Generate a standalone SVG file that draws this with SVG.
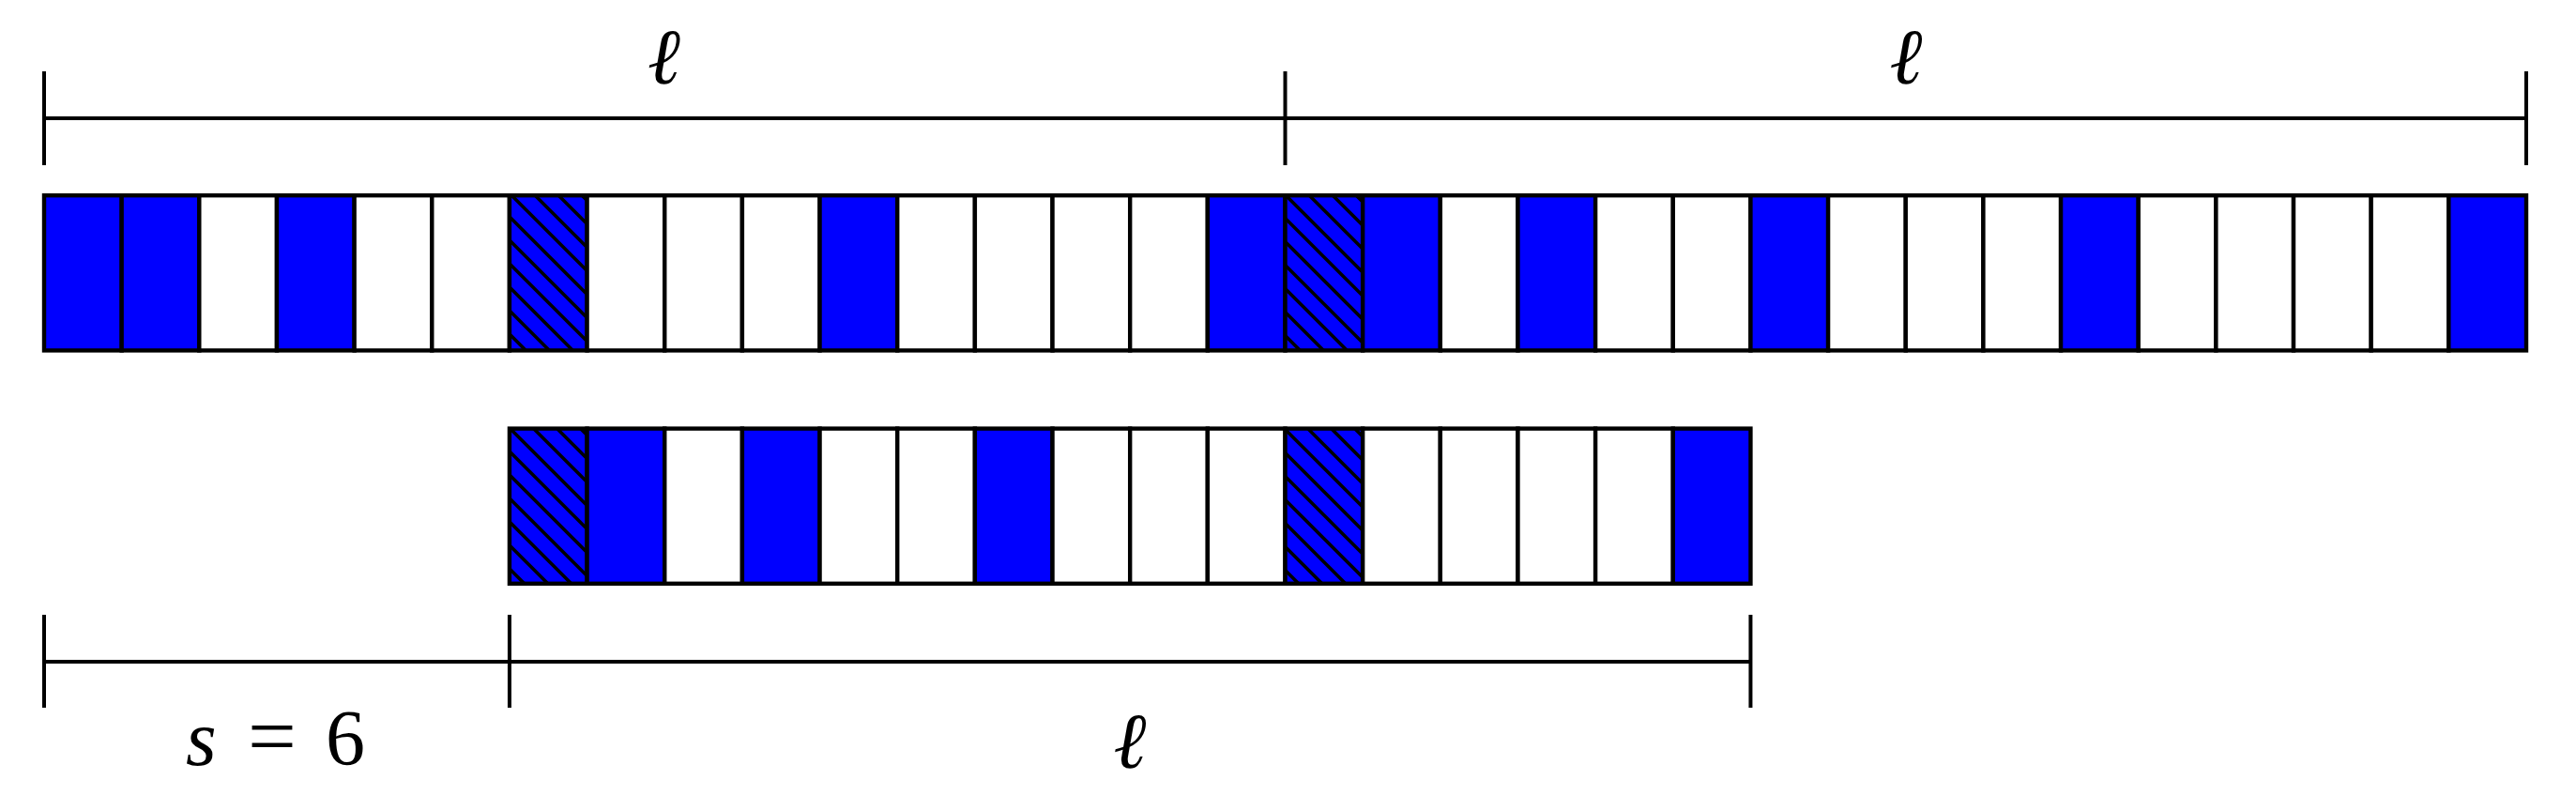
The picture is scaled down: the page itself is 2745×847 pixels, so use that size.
<svg xmlns="http://www.w3.org/2000/svg" width="2745" height="847" viewBox="0 0 2745 847">
<style>
.c{stroke:#000;stroke-width:4.4;}
.b{fill:#0000ff;}
.w{fill:#ffffff;}
.h{fill:url(#hatch);}
.dim{stroke:#000;stroke-width:4;fill:none;}
.lbl{font-family:"Liberation Serif","DejaVu Serif",serif;font-size:84px;fill:#000;}
.it{font-style:italic;}
</style>
<defs>
<pattern id="hatch" patternUnits="userSpaceOnUse" x="12" y="0" width="25" height="25">
<rect x="0" y="0" width="25" height="25" fill="#0000ff"/>
<path d="M-5,-5 L30,30 M-5,20 L5,30 M20,-5 L30,5" stroke="#000" stroke-width="3.6"/>
</pattern>
</defs>
<rect width="2745" height="847" fill="#fff"/>
<g id="top-row">
<g id="t0"><rect class="c b" x="47" y="208.2" width="82.66" height="165.2"/></g>
<g id="t1"><rect class="c b" x="129.66" y="208.2" width="82.66" height="165.2"/></g>
<g id="t2"><rect class="c w" x="212.31" y="208.2" width="82.66" height="165.2"/></g>
<g id="t3"><rect class="c b" x="294.97" y="208.2" width="82.66" height="165.2"/></g>
<g id="t4"><rect class="c w" x="377.62" y="208.2" width="82.66" height="165.2"/></g>
<g id="t5"><rect class="c w" x="460.28" y="208.2" width="82.66" height="165.2"/></g>
<g id="t6"><rect class="c h" x="542.94" y="208.2" width="82.66" height="165.2"/></g>
<g id="t7"><rect class="c w" x="625.59" y="208.2" width="82.66" height="165.2"/></g>
<g id="t8"><rect class="c w" x="708.25" y="208.2" width="82.66" height="165.2"/></g>
<g id="t9"><rect class="c w" x="790.9" y="208.2" width="82.66" height="165.2"/></g>
<g id="t10"><rect class="c b" x="873.56" y="208.2" width="82.66" height="165.2"/></g>
<g id="t11"><rect class="c w" x="956.22" y="208.2" width="82.66" height="165.2"/></g>
<g id="t12"><rect class="c w" x="1038.87" y="208.2" width="82.66" height="165.2"/></g>
<g id="t13"><rect class="c w" x="1121.53" y="208.2" width="82.66" height="165.2"/></g>
<g id="t14"><rect class="c w" x="1204.18" y="208.2" width="82.66" height="165.2"/></g>
<g id="t15"><rect class="c b" x="1286.84" y="208.2" width="82.66" height="165.2"/></g>
<g id="t16"><rect class="c h" x="1369.5" y="208.2" width="82.66" height="165.2"/></g>
<g id="t17"><rect class="c b" x="1452.15" y="208.2" width="82.66" height="165.2"/></g>
<g id="t18"><rect class="c w" x="1534.81" y="208.2" width="82.66" height="165.2"/></g>
<g id="t19"><rect class="c b" x="1617.46" y="208.2" width="82.66" height="165.2"/></g>
<g id="t20"><rect class="c w" x="1700.12" y="208.2" width="82.66" height="165.2"/></g>
<g id="t21"><rect class="c w" x="1782.78" y="208.2" width="82.66" height="165.2"/></g>
<g id="t22"><rect class="c b" x="1865.43" y="208.2" width="82.66" height="165.2"/></g>
<g id="t23"><rect class="c w" x="1948.09" y="208.2" width="82.66" height="165.2"/></g>
<g id="t24"><rect class="c w" x="2030.74" y="208.2" width="82.66" height="165.2"/></g>
<g id="t25"><rect class="c w" x="2113.4" y="208.2" width="82.66" height="165.2"/></g>
<g id="t26"><rect class="c b" x="2196.06" y="208.2" width="82.66" height="165.2"/></g>
<g id="t27"><rect class="c w" x="2278.71" y="208.2" width="82.66" height="165.2"/></g>
<g id="t28"><rect class="c w" x="2361.37" y="208.2" width="82.66" height="165.2"/></g>
<g id="t29"><rect class="c w" x="2444.02" y="208.2" width="82.66" height="165.2"/></g>
<g id="t30"><rect class="c w" x="2526.68" y="208.2" width="82.66" height="165.2"/></g>
<g id="t31"><rect class="c b" x="2609.34" y="208.2" width="82.66" height="165.2"/></g>
</g>
<g id="bottom-row">
<g id="b6"><rect class="c h" x="542.94" y="456.6" width="82.66" height="165.2"/></g>
<g id="b7"><rect class="c b" x="625.59" y="456.6" width="82.66" height="165.2"/></g>
<g id="b8"><rect class="c w" x="708.25" y="456.6" width="82.66" height="165.2"/></g>
<g id="b9"><rect class="c b" x="790.9" y="456.6" width="82.66" height="165.2"/></g>
<g id="b10"><rect class="c w" x="873.56" y="456.6" width="82.66" height="165.2"/></g>
<g id="b11"><rect class="c w" x="956.22" y="456.6" width="82.66" height="165.2"/></g>
<g id="b12"><rect class="c b" x="1038.87" y="456.6" width="82.66" height="165.2"/></g>
<g id="b13"><rect class="c w" x="1121.53" y="456.6" width="82.66" height="165.2"/></g>
<g id="b14"><rect class="c w" x="1204.18" y="456.6" width="82.66" height="165.2"/></g>
<g id="b15"><rect class="c w" x="1286.84" y="456.6" width="82.66" height="165.2"/></g>
<g id="b16"><rect class="c h" x="1369.5" y="456.6" width="82.66" height="165.2"/></g>
<g id="b17"><rect class="c w" x="1452.15" y="456.6" width="82.66" height="165.2"/></g>
<g id="b18"><rect class="c w" x="1534.81" y="456.6" width="82.66" height="165.2"/></g>
<g id="b19"><rect class="c w" x="1617.46" y="456.6" width="82.66" height="165.2"/></g>
<g id="b20"><rect class="c w" x="1700.12" y="456.6" width="82.66" height="165.2"/></g>
<g id="b21"><rect class="c b" x="1782.78" y="456.6" width="82.66" height="165.2"/></g>
</g>
<g id="dimensions">
<path class="dim" d="M47,126 H2692 M47,76 V176 M1369.5,76 V176 M2692,76 V176"/>
<path class="dim" d="M47,705 H1865.4 M47,655 V754 M542.94,655 V754 M1865.43,655 V754"/>
</g>
<g id="labels">
<text class="lbl it" x="707.5" y="89" text-anchor="middle">ℓ</text>
<text class="lbl it" x="2031" y="89" text-anchor="middle">ℓ</text>
<text class="lbl it" x="1204" y="818" text-anchor="middle">ℓ</text>
<text class="lbl"><tspan class="it" x="198" y="815">s</tspan> <tspan x="264" y="815" font-size="92">=</tspan> <tspan x="347" y="815">6</tspan></text>
</g>
</svg>
